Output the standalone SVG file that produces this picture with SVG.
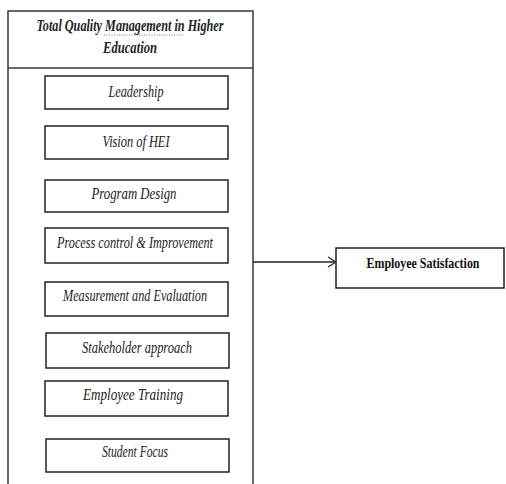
<svg xmlns="http://www.w3.org/2000/svg" width="506" height="484" viewBox="0 0 506 484">
<style>
.frame{fill:none;stroke:#3a3a3a;stroke-width:1.5}
.box{fill:#fff;stroke:#222;stroke-width:1.5}
.it{font-family:"Liberation Serif","DejaVu Serif",serif;font-style:italic;font-size:16px;fill:#222;text-anchor:middle}
.hd{font-family:"Liberation Serif","DejaVu Serif",serif;font-style:italic;font-weight:bold;font-size:16px;fill:#222;text-anchor:middle}
.bd{font-family:"Liberation Serif","DejaVu Serif",serif;font-weight:bold;font-size:14px;fill:#111;text-anchor:middle}
.conn{fill:none;stroke:#222;stroke-width:1.3}
</style>
<defs>
<marker id="arr" markerWidth="10" markerHeight="12" refX="9" refY="6" orient="auto" markerUnits="userSpaceOnUse">
<path d="M1,1 L9,6 L1,11" fill="none" stroke="#222" stroke-width="1.2"/>
</marker>
</defs>
<rect width="506" height="484" fill="#fff"/>
<g id="tqm">
<path class="frame" d="M8,484 V11 H253 V484"/>
<line class="frame" x1="8" y1="68" x2="253" y2="68"/>
<text class="hd" x="130" y="31" textLength="187" lengthAdjust="spacingAndGlyphs">Total Quality Management in Higher</text>
<text class="hd" x="130" y="53" textLength="54" lengthAdjust="spacingAndGlyphs">Education</text>
<path d="M104,35 H184" stroke="#4a9a4a" stroke-width="1" stroke-dasharray="1,1.5" fill="none"/>
</g>
<g id="leadership"><rect class="box" x="45" y="76" width="183" height="33"/><text class="it" x="136" y="97" textLength="55" lengthAdjust="spacingAndGlyphs">Leadership</text></g>
<g id="vision"><rect class="box" x="45" y="126" width="183" height="33"/><text class="it" x="136" y="147" textLength="67" lengthAdjust="spacingAndGlyphs">Vision of HEI</text></g>
<g id="program"><rect class="box" x="45" y="180" width="183" height="32"/><text class="it" x="134" y="199" textLength="85" lengthAdjust="spacingAndGlyphs">Program Design</text></g>
<g id="process"><rect class="box" x="45" y="228" width="183" height="35"/><text class="it" x="135" y="248" textLength="156" lengthAdjust="spacingAndGlyphs">Process control &amp; Improvement</text></g>
<g id="measurement"><rect class="box" x="45" y="282" width="183" height="34"/><text class="it" x="135" y="301" textLength="144" lengthAdjust="spacingAndGlyphs">Measurement and Evaluation</text></g>
<g id="stakeholder"><rect class="box" x="46" y="333" width="183" height="35"/><text class="it" x="137" y="353" textLength="110" lengthAdjust="spacingAndGlyphs">Stakeholder approach</text></g>
<g id="training"><rect class="box" x="45" y="381" width="183" height="35"/><text class="it" x="133" y="400" textLength="100" lengthAdjust="spacingAndGlyphs">Employee Training</text></g>
<g id="student"><rect class="box" x="46" y="439" width="183" height="33"/><text class="it" x="135" y="457" textLength="66" lengthAdjust="spacingAndGlyphs">Student Focus</text></g>
<g id="satisfaction"><rect class="box" x="336" y="248" width="168" height="40"/><text class="bd" x="423" y="268" textLength="113" lengthAdjust="spacingAndGlyphs">Employee Satisfaction</text></g>
<g id="connectors">
<line class="conn" x1="253" y1="262" x2="336" y2="262" marker-end="url(#arr)"/>
</g>
</svg>
